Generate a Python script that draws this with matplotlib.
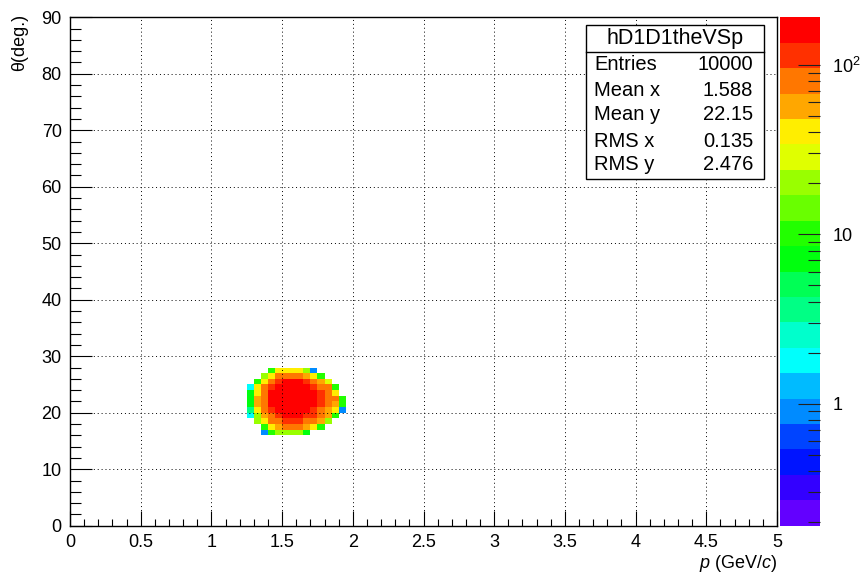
import colorsys
import numpy as np
import matplotlib
matplotlib.use("Agg")
import matplotlib.pyplot as plt
from matplotlib.colors import ListedColormap, LogNorm
from matplotlib.patches import Rectangle
from matplotlib.lines import Line2D
from matplotlib.ticker import FixedLocator, NullFormatter

plt.rcParams["font.family"] = ["Liberation Sans", "DejaVu Sans"]
plt.rcParams["mathtext.fontset"] = "custom"
plt.rcParams["mathtext.rm"] = "Liberation Sans"
plt.rcParams["mathtext.it"] = "Liberation Sans:italic"

# ---- histogram binning ----
n_p_bins, p_min, p_max = 100, 0.0, 5.0
n_theta_bins, theta_min, theta_max = 90, 0.0, 90.0

# ---- filled bin contents (rows: theta bins 27 down to 16, cols: p bins 25..38) ----
first_p_bin = 25
top_theta_bin = 27
counts = [
    [0,  0,  0,   9,  38,  40,  42,  36,  20,   1,   0,  0,  0,  0],
    [0,  0, 17,  40,  75,  80,  85,  78,  55,  38,  10,  0,  0,  0],
    [0,  9, 42,  80, 110, 140, 150, 140, 115,  85,  58, 28,  0,  0],
    [2, 38, 75, 115, 150, 165, 170, 160, 145, 120,  85, 70,  9,  0],
    [7, 40, 80, 140, 160, 175, 180, 170, 160, 140, 110, 72, 40,  0],
    [8, 55, 85, 145, 165, 180, 185, 175, 165, 150, 115, 80, 68, 10],
    [8, 52, 90, 140, 160, 175, 180, 175, 160, 140, 110, 78, 55,  9],
    [4, 40, 82, 125, 150, 165, 170, 160, 150, 125,  90, 60, 38,  1],
    [2, 22, 60,  90, 120, 140, 145, 140, 125, 105,  80, 55, 10,  0],
    [0, 18, 42,  72,  88, 110, 115, 105,  90,  75,  50, 22,  0,  0],
    [0,  0, 10,  40,  58,  72,  78,  70,  55,  36,  11,  0,  0,  0],
    [0,  0,  1,   9,  20,  19,  21,  18,   8,   0,   0,  0,  0,  0],
]

# colour scale range and number of contour levels
z_min, z_max = 0.19, 191.0
n_levels = 20

hist_name = "hD1D1theVSp"
stat_labels = ["Entries", "Mean x", "Mean y", "RMS x", "RMS y"]
stat_values = ["10000", "1.588", "22.15", "0.135", "2.476"]

x_ticks = [0, 0.5, 1, 1.5, 2, 2.5, 3, 3.5, 4, 4.5, 5]
x_tick_labels = ["0", "0.5", "1", "1.5", "2", "2.5", "3", "3.5", "4", "4.5", "5"]
y_ticks = [0, 10, 20, 30, 40, 50, 60, 70, 80, 90]
z_ticks = [1, 10, 100]
z_tick_labels = ["1", "10", "10$^{2}$"]

# ---- build the full 2D array ----
H = np.zeros((n_theta_bins, n_p_bins))
block = np.array(counts, dtype=float)
for r, row in enumerate(block):
    j = top_theta_bin - r
    H[j, first_p_bin:first_p_bin + len(row)] = row
Hm = np.ma.masked_less_equal(H, 0)

p_edges = np.linspace(p_min, p_max, n_p_bins + 1)
theta_edges = np.linspace(theta_min, theta_max, n_theta_bins + 1)

# ROOT "pretty" palette: 50 hues from violet to red, sampled at 20 levels
def pretty_palette(n_colors=50, n_div=20):
    pal = []
    for i in range(n_colors):
        hue = 280.0 - (i + 1) * (280.0 / n_colors)
        pal.append(colorsys.hls_to_rgb(hue / 360.0, 0.5, 1.0))
    return [pal[int((c + 0.99) * n_colors / n_div)] for c in range(n_div)]

cmap = ListedColormap(pretty_palette(50, n_levels))
norm = LogNorm(vmin=z_min, vmax=z_max)

W, Hpx = 864, 573
fig = plt.figure(figsize=(W / 100, Hpx / 100), dpi=100)

def fx(x):
    return x / W

def fy(y):
    return 1 - y / Hpx

ax_l, ax_r, ax_t, ax_b = 70, 777, 17.3, 525.7
ax = fig.add_axes([fx(ax_l), fy(ax_b), (ax_r - ax_l) / W, (ax_b - ax_t) / Hpx])
cax = fig.add_axes([fx(780), fy(ax_b), 40 / W, (ax_b - ax_t) / Hpx])

mesh = ax.pcolormesh(p_edges, theta_edges, Hm, cmap=cmap, norm=norm, zorder=1)

ax.set_xlim(p_min, p_max)
ax.set_ylim(theta_min, theta_max)
ax.set_xticks(x_ticks)
ax.set_xticklabels(x_tick_labels)
ax.set_yticks(y_ticks)
ax.set_xticks(np.arange(0, 5.0001, 0.1), minor=True)
ax.set_yticks(np.arange(0, 90.001, 2), minor=True)
ax.tick_params(axis="both", which="both", direction="in", top=False, right=False,
               labelsize=13, color="black", width=0.8)
ax.tick_params(axis="x", which="major", length=10.8, pad=6)
ax.tick_params(axis="x", which="minor", length=5.4)
ax.tick_params(axis="y", which="major", length=15.8, pad=6)
ax.tick_params(axis="y", which="minor", length=7.9)
for s in ax.spines.values():
    s.set_linewidth(1.0)
    s.set_color("black")

ax.set_axisbelow(False)
ax.grid(True, which="major", color="black", linestyle=(0, (1.0, 3.0)), linewidth=0.7)

# colour bar
cb = fig.colorbar(mesh, cax=cax)
cb.outline.set_visible(False)
cax.yaxis.set_ticks_position("right")
cax.yaxis.set_major_locator(FixedLocator(z_ticks))
cax.set_yticklabels(z_tick_labels)
minor_z = [m * 10.0 ** e for e in (-1, 0, 1, 2) for m in range(2, 10)]
minor_z = [v for v in minor_z if z_min <= v <= z_max]
cax.yaxis.set_minor_locator(FixedLocator(minor_z))
cax.yaxis.set_minor_formatter(NullFormatter())
cax.tick_params(axis="y", which="both", direction="in", labelsize=13, color="#222222", width=0.8)
cax.tick_params(axis="y", which="major", length=15.8, pad=9)
cax.tick_params(axis="y", which="minor", length=8.4)

# axis titles
fig.text(fx(20), fy(14), "θ(deg.)", rotation=90, ha="center", va="top", fontsize=13)
fig.text(fx(777), fy(563), "$\\mathit{p}$ (GeV/$\\mathit{c}$)", ha="right", va="center", fontsize=13)

# statistics box
bx_l, bx_r, bx_t, bx_b, bx_sep = 586, 764, 25, 179, 52
fig.patches.append(Rectangle((fx(bx_l), fy(bx_b)), (bx_r - bx_l) / W, (bx_b - bx_t) / Hpx,
                             transform=fig.transFigure, facecolor="white",
                             edgecolor="black", linewidth=1.0, zorder=5))
fig.lines.append(Line2D([fx(bx_l), fx(bx_r)], [fy(bx_sep), fy(bx_sep)],
                        transform=fig.transFigure, color="black", linewidth=1.0, zorder=6))
fig.text(fx((bx_l + bx_r) / 2), fy(38.5), hist_name, ha="center", va="center",
         fontsize=15.5, zorder=7)
row_y = [65, 90, 114.5, 141.5, 165]
for lab, val, yy in zip(stat_labels, stat_values, row_y):
    fig.text(fx(594), fy(yy), lab, ha="left", va="center", fontsize=14.5, zorder=7)
    fig.text(fx(753), fy(yy), val, ha="right", va="center", fontsize=14.5, zorder=7)

fig.savefig("out.png", dpi=100)
